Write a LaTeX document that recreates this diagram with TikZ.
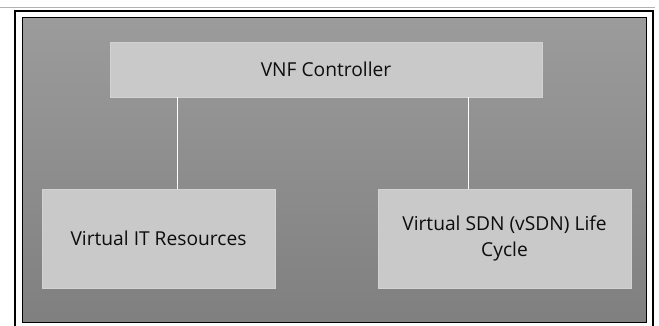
\documentclass[tikz,border=0pt]{standalone}
\usepackage{fontspec}
\setmainfont{Open Sans}
\begin{document}
\begin{tikzpicture}[x=1pt,y=-1pt,
  box/.style={draw=gray!35, line width=0.8pt, fill=black!21, text=black!95, align=center, font=\fontsize{19.2}{26}\selectfont, inner sep=0pt},
  link/.style={draw=white, line width=1pt}]
\useasboundingbox (0,0) rectangle (659,326);
\fill[white] (0,0) rectangle (659,326);
\draw[gray!60, line width=1pt] (0,8) -- (655,8);
\begin{scope}
\clip (0,0) rectangle (659,326);
\draw[black, line width=2pt] (15,11) rectangle (653,340);
\end{scope}
\shade[top color=black!39, bottom color=black!50, draw=black, line width=1pt] (22,18) rectangle (646,322);
\node[box, minimum width=432pt, minimum height=55pt] (ctrl) at (326,69.5) {VNF Controller};
\node[box, minimum width=233pt, minimum height=99pt] (it) at (158.5,238.5) {Virtual IT Resources};
\node[box, minimum width=253pt, minimum height=99pt] (sdn) at (504.5,238.5) {Virtual SDN (vSDN) Life\\Cycle};
\draw[link] (ctrl.south -| 177,0) -- (it.north -| 177,0);
\draw[link] (ctrl.south -| 468,0) -- (sdn.north -| 468,0);
\end{tikzpicture}
\end{document}
